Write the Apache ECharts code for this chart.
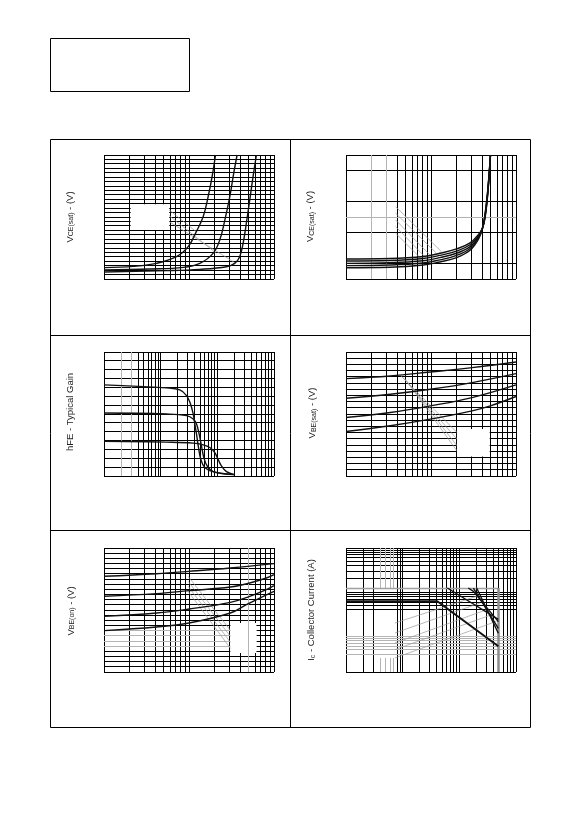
<!DOCTYPE html>
<html><head><meta charset="utf-8">
<script src="https://cdn.jsdelivr.net/npm/echarts@6.0.0/dist/echarts.min.js"></script>
<style>html,body{margin:0;padding:0;background:#fff}#c{width:583px;height:826px}</style>
</head><body><div id="c"></div>
<script>
// ---------- DATA ----------
// Panel 1: VCE(sat) curves
const p1_curveA = [[1,2.56],[2.21,2.86],[4.15,3.54],[7.13,5.04],[9.78,7.30],[12.2,10.7],[14.7,14.1],[16.8,18.6],[18.7,23.1],[20.5,28]];
const p1_curveB = [[1,2.03],[3.47,2.26],[8.55,2.63],[13.4,3.54],[19.2,5.79],[23.0,8.8],[26.4,13.3],[30.2,18.6],[33.6,23.9],[36.8,28]];
const p1_curveC = [[1,1.58],[5.44,1.88],[13.4,2.18],[27.6,2.78],[34.5,3.54],[39.5,5.04],[43.3,8.05],[47.3,12.6],[51.8,17.8],[56.7,23.1],[62.1,28]];
// Panel 2: VCE(sat) family
const p2_x = [1,3.26,8.08,12.7,20.0,28.8,36.2,40.3,43.4,46.2,48.3,50.1];
const p2_c1 = [1.29,1.32,1.45,1.66,1.94,2.33,2.88,3.27,4.0,5.3,6.6,8.0];
const p2_c2 = [1.16,1.19,1.32,1.52,1.80,2.21,2.80,3.27,4.05,5.35,6.65,8.0];
const p2_c3 = [1.01,1.05,1.18,1.38,1.66,2.09,2.73,3.27,4.13,5.42,6.71,8.0];
const p2_c4 = [0.86,0.90,1.03,1.23,1.52,1.97,2.65,3.27,4.2,5.5,6.78,8.0];
const p2_c5 = [0.73,0.76,0.90,1.10,1.38,1.85,2.57,3.27,4.27,5.57,6.85,8.0];
// Panel 3: hFE
const p3_top = [[1,10.29],[12.7,9.95],[21.8,9.72],[28.6,9.08],[33.6,8.13],[37.5,7.0],[40.1,5.86],[42.9,4.73],[46.5,3.22],[51.1,1.89],[60.1,0.95],[84.3,0.49],[200,0.15]];
const p3_mid = [[1,7.11],[12.7,7.0],[28.6,6.81],[37.5,6.43],[42.9,5.86],[47.8,4.73],[52.5,3.41],[57.8,2.08],[66.1,1.14],[84.3,0.49],[126,0.26],[200,0.15]];
const p3_bot = [[1,3.93],[12.7,3.82],[37.5,3.71],[56.2,3.52],[73.6,3.22],[90.2,2.65],[103,1.89],[118,1.14],[145,0.49],[200,0.15]];
// Panel 4: VBE(sat)
const p4_l1 = [[1,15.71],[3.32,16.14],[9.82,16.78],[30.4,17.48],[100,18.39]];
const p4_l2 = [[1,12.55],[3.32,13.19],[9.82,13.99],[30.4,15.07],[100,16.51]];
const p4_l3 = [[1,9.44],[3.32,10.24],[9.82,11.31],[30.4,12.65],[100,14.69]];
const p4_l4 = [[1,7.18],[3.32,8.10],[9.82,9.17],[30.4,10.51],[49.9,11.31],[100,12.82]];
// Panel 5: VBE(on)
const p5_c1 = [[1,18.52],[4.15,19.03],[10,19.48],[30.7,20.13],[100,20.97]];
const p5_c2 = [[1,14.65],[4.15,15.16],[10,15.74],[30.7,16.45],[51.8,17.23],[81.3,18.19],[100,18.84]];
const p5_c3 = [[1,10.77],[4.15,11.42],[10,12.19],[30.7,13.48],[51.8,14.65],[81.3,15.94],[100,16.71]];
const p5_c4 = [[1,8.0],[4.15,8.71],[10,9.48],[30.7,11.42],[47.3,13.03],[67.9,14.32],[100,15.61]];
// Panel 6: safe operating area
const p6_d1 = [[1,0.627],[40.9,0.627],[488,0.0605]];
const p6_d2 = [[61.4,1.25],[488,0.246]];
const p6_d3 = [[144,1.25],[177,1.05],[488,0.218]];
const p6_d4 = [[177,1.25],[488,0.154]];
const p6_d5 = [[202,1.25],[488,0.119]];
const p6_bound = [[1,1.25,488,1.25],[488,1.25,488,0.0159]];
// Erased label boxes (white) and grey leader lines
const p1_box = [[2.06,11.06,5.85,16.9]];
const p4_box = [[20.2,3.16,49.0,7.6]];
const p5_box = [[30.7,3.68,62.1,9.48]];
const p1_lead = [[5.85,15.58,12.2,10.68],[5.85,14.3,21.0,5.79],[5.85,12.94,34.5,3.69]];
const p2_lead = [[3.84,4.67,13.3,1.76],[3.84,4.24,11.6,1.66],[3.84,3.81,9.69,1.55],[3.84,3.38,8.45,1.44],[3.84,2.95,7.72,1.29]];
const p4_lead = [[4.36,16.25,20.2,7.02],[4.68,15.87,20.2,5.95],[4.99,15.6,20.2,4.88],[5.31,15.07,20.2,4.07]];
const p5_lead = [[9.78,18.5,30.7,8.06],[9.78,17.55,30.7,6.9],[9.78,16.58,30.7,5.74],[9.78,15.6,30.7,4.58]];
const p6_lead = [[7.32,0.203,202,0.813],[7.32,0.121,232,0.574],[7.32,0.072,303,0.406],[7.32,0.051,372,0.313],[7.32,0.033,456,0.222]];
// Axis ranges (no tick labels are printed in the reference)
const xRanges = [[1,100],[1,100],[1,1000],[1,100],[1,100],[1,1000]];
const yRanges = [[0,28],[0,8],[0,14],[0,20],[0,24],[0.0159,10]];
// Labels
const labels = ['{a|V}{b|CE(sat)}{a| - (V)}','{a|V}{b|CE(sat)}{a| - (V)}','{a|hFE - Typical Gain}','{a|V}{b|BE(sat)}{a| - (V)}','{a|V}{b|BE(on)}{a| - (V)}','{a|I}{b|c}{a| - Collector Current (A)}'];

// ---------- helpers ----------
function logTicks(a,b){const t=[];for(let d=a;d<b;d*=10)for(let k=1;k<10;k++){const v=+(k*d).toPrecision(6);if(v>a&&v<b)t.push(v);}return t;}
function ints(a,b){const t=[];for(let v=a+1;v<b;v++)t.push(v);return t;}
function vlines(i,xs){const y=yRanges[i];return xs.map(v=>[v,y[0],v,y[1]]);}
function hlines(i,ys){const x=xRanges[i];return ys.map(v=>[x[0],v,x[1],v]);}
function box(i){const x=xRanges[i],y=yRanges[i];return [[x[0],y[0],x[1],y[0]],[x[0],y[1],x[1],y[1]],[x[0],y[0],x[0],y[1]],[x[1],y[0],x[1],y[1]]];}
const zip = (xs,ys)=>xs.map((x,k)=>[x,ys[k]]);

const blackSegs = [], greySegs = [];
blackSegs[0] = vlines(0,logTicks(1,100)).concat(hlines(0,ints(0,28)),box(0));
greySegs[0] = [];
blackSegs[1] = vlines(1,logTicks(1,100).filter(v=>v!==2&&v!==3)).concat(hlines(1,[1,3,5,7]),box(1));
greySegs[1] = vlines(1,[2,3]).concat(hlines(1,[4]));
blackSegs[2] = vlines(2,logTicks(1,1000).filter(v=>v!==2&&v!==3)).concat(hlines(2,ints(0,14)),box(2));
greySegs[2] = vlines(2,[2,3]);
blackSegs[3] = vlines(3,logTicks(1,100)).concat(hlines(3,ints(0,20)),box(3));
greySegs[3] = [];
const p5g = [5,6,7,8];
blackSegs[4] = vlines(4,logTicks(1,100).filter(v=>v!==50)).concat(hlines(4,ints(0,24).filter(v=>p5g.indexOf(v)<0)),p5g.map(v=>[62.1,v,100,v]),box(4));
greySegs[4] = vlines(4,[50]).concat(p5g.map(v=>[1,v,30.7,v]));
const p6grey = [4,5,6,7];
blackSegs[5] = vlines(5,logTicks(1,1000).filter(v=>p6grey.indexOf(v)<0)).concat(hlines(5,[9,8,7,6,5,4,3,2,1,0.9,0.8,0.7,0.6,0.5,0.4]),box(5));
greySegs[5] = p6grey.map(v=>[v,1.25,v,10]).concat(p6grey.map(v=>[v,0.0159,v,0.033]),hlines(5,[0.1,0.09,0.08,0.07,0.06,0.05,0.04]));

const boxes = [p1_box,[],[],p4_box,p5_box,[]];
const leads = [p1_lead,p2_lead,[],p4_lead,p5_lead,p6_lead];
const curves = [
  [p1_curveA,p1_curveB,p1_curveC],
  [zip(p2_x,p2_c1),zip(p2_x,p2_c2),zip(p2_x,p2_c3),zip(p2_x,p2_c4),zip(p2_x,p2_c5)],
  [p3_top,p3_mid,p3_bot],
  [p4_l1,p4_l2,p4_l3,p4_l4],
  [p5_c1,p5_c2,p5_c3,p5_c4],
  [p6_d1,p6_d2,p6_d3,p6_d4,p6_d5]
];

const gridPos = [[104,155],[346,155],[104,352],[346,352],[104,548],[346,548]];
const labelPos = [[70,217],[310.5,216.5],[70.5,412],[312.5,413],[71,611],[311.5,610]];

function segSeries(i,segs,color,width,z){
  return {type:'custom',xAxisIndex:i,yAxisIndex:i,z:z,silent:true,clip:false,data:segs,
    encode:{x:[0,2],y:[1,3]},
    renderItem:function(params,api){
      const a=api.coord([api.value(0),api.value(1)]);
      const b=api.coord([api.value(2),api.value(3)]);
      let x1=a[0],y1=a[1],x2=b[0],y2=b[1];
      const c=v=>Math.floor(v)+0.5;
      if(Math.abs(x1-x2)<0.01){x1=x2=c(x1);}
      if(Math.abs(y1-y2)<0.01){y1=y2=c(y1);}
      return {type:'line',shape:{x1,y1,x2,y2},style:{stroke:color,lineWidth:width}};
    }};
}
function rectSeries(i,rects){
  return {type:'custom',xAxisIndex:i,yAxisIndex:i,z:3,silent:true,clip:true,data:rects,
    encode:{x:[0,2],y:[1,3]},
    renderItem:function(params,api){
      const a=api.coord([api.value(0),api.value(1)]);
      const b=api.coord([api.value(2),api.value(3)]);
      return {type:'rect',shape:{x:Math.min(a[0],b[0]),y:Math.min(a[1],b[1]),width:Math.abs(b[0]-a[0]),height:Math.abs(b[1]-a[1])},style:{fill:'#fff'}};
    }};
}

const grid=[],xAxis=[],yAxis=[],series=[],graphic=[];
for(let i=0;i<6;i++){
  grid.push({left:gridPos[i][0],top:gridPos[i][1],width:170,height:124,show:false});
  xAxis.push({gridIndex:i,type:'log',logBase:10,min:xRanges[i][0],max:xRanges[i][1],show:false});
  yAxis.push({gridIndex:i,type:i===5?'log':'value',min:yRanges[i][0],max:yRanges[i][1],show:false});
  series.push(segSeries(i,blackSegs[i],'#000',1,2));
  if(boxes[i].length) series.push(rectSeries(i,boxes[i]));
  if(greySegs[i].length) series.push(segSeries(i,greySegs[i],'#b4b4b4',1,4));
  if(leads[i].length) series.push(segSeries(i,leads[i],'#9a9a9a',0.7,4));
  if(i===5){
    series.push(segSeries(i,[p6_bound[0]],'#a0a0a0',1.5,4));
    series.push(segSeries(i,[p6_bound[1]],'#8c8c8c',2.5,4));
  }
  curves[i].forEach((d,k)=>{
    series.push({type:'line',xAxisIndex:i,yAxisIndex:i,data:d,showSymbol:false,symbol:'none',
      smooth:i===5?false:0.4,clip:true,silent:true,z:5,
      lineStyle:{color:'#111',width:(i===5&&k===0)?2:1.4}});
  });
  graphic.push({type:'text',x:labelPos[i][0],y:labelPos[i][1],rotation:Math.PI/2,
    style:{text:labels[i],align:'center',verticalAlign:'middle',fill:'#222',
      rich:{a:{fontSize:9.5,fontFamily:'Liberation Sans, Arial, sans-serif',fill:'#222'},
            b:{fontSize:7,fontFamily:'Liberation Sans, Arial, sans-serif',fill:'#222',verticalAlign:'bottom'}}}});
}
graphic.push({type:'rect',shape:{x:50.5,y:38.5,width:139,height:53},style:{fill:'none',stroke:'#000',lineWidth:1}});
graphic.push({type:'rect',shape:{x:50.5,y:139.5,width:480,height:588},style:{fill:'none',stroke:'#000',lineWidth:1}});
graphic.push({type:'line',shape:{x1:290.5,y1:139.5,x2:290.5,y2:727.5},style:{stroke:'#000',lineWidth:1}});
graphic.push({type:'line',shape:{x1:50.5,y1:335.5,x2:530.5,y2:335.5},style:{stroke:'#000',lineWidth:1}});
graphic.push({type:'line',shape:{x1:50.5,y1:530.5,x2:530.5,y2:530.5},style:{stroke:'#000',lineWidth:1}});

const chart=echarts.init(document.getElementById('c'),null,{renderer:'canvas'});
chart.setOption({animation:false,backgroundColor:'#fff',grid,xAxis,yAxis,series,graphic});
</script></body></html>
